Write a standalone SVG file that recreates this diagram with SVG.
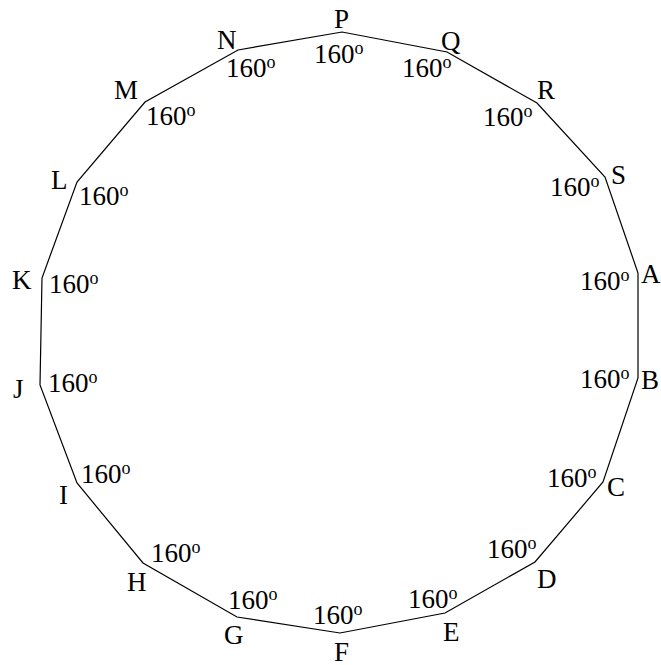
<svg xmlns="http://www.w3.org/2000/svg" width="661" height="665" viewBox="0 0 661 665">
<style>
text{font-family:"Liberation Serif","Times New Roman",serif;font-size:27px;fill:#000}
.s{font-size:18px}
.edge{fill:none;stroke:#000;stroke-width:1.2;stroke-linejoin:miter}
</style>
<rect width="661" height="665" fill="#fff"/>
<g id="connectors">
<polygon class="edge" points="638,273 638,378 603,482 535,562 445,613 340,633 237,617 143,563 77,483 40,385 42,278 77,182 145,102 238,50 342,32 447,52 537,103 605,177"/>
</g>
<g id="A"><text x="641" y="283">A</text><text x="580" y="290">160<tspan class="s" dy="-9">o</tspan></text></g>
<g id="B"><text x="641" y="389">B</text><text x="580" y="388">160<tspan class="s" dy="-9">o</tspan></text></g>
<g id="C"><text x="607" y="496">C</text><text x="547" y="487">160<tspan class="s" dy="-9">o</tspan></text></g>
<g id="D"><text x="537" y="588">D</text><text x="487" y="558">160<tspan class="s" dy="-9">o</tspan></text></g>
<g id="E"><text x="443" y="641">E</text><text x="408" y="608">160<tspan class="s" dy="-9">o</tspan></text></g>
<g id="F"><text x="334" y="661">F</text><text x="313" y="624">160<tspan class="s" dy="-9">o</tspan></text></g>
<g id="G"><text x="224" y="644">G</text><text x="228" y="609">160<tspan class="s" dy="-9">o</tspan></text></g>
<g id="H"><text x="127" y="591">H</text><text x="151" y="562">160<tspan class="s" dy="-9">o</tspan></text></g>
<g id="I"><text x="59" y="504">I</text><text x="81" y="483">160<tspan class="s" dy="-9">o</tspan></text></g>
<g id="J"><text x="13" y="398">J</text><text x="48" y="392">160<tspan class="s" dy="-9">o</tspan></text></g>
<g id="K"><text x="12" y="289">K</text><text x="49" y="293">160<tspan class="s" dy="-9">o</tspan></text></g>
<g id="L"><text x="51" y="189">L</text><text x="79" y="205">160<tspan class="s" dy="-9">o</tspan></text></g>
<g id="M"><text x="114" y="99">M</text><text x="146" y="125">160<tspan class="s" dy="-9">o</tspan></text></g>
<g id="N"><text x="217" y="49">N</text><text x="226" y="77">160<tspan class="s" dy="-9">o</tspan></text></g>
<g id="P"><text x="334" y="28">P</text><text x="314" y="63">160<tspan class="s" dy="-9">o</tspan></text></g>
<g id="Q"><text x="441" y="50">Q</text><text x="402" y="77">160<tspan class="s" dy="-9">o</tspan></text></g>
<g id="R"><text x="537" y="99">R</text><text x="483" y="126">160<tspan class="s" dy="-9">o</tspan></text></g>
<g id="S"><text x="611" y="184">S</text><text x="550" y="196">160<tspan class="s" dy="-9">o</tspan></text></g>
</svg>
